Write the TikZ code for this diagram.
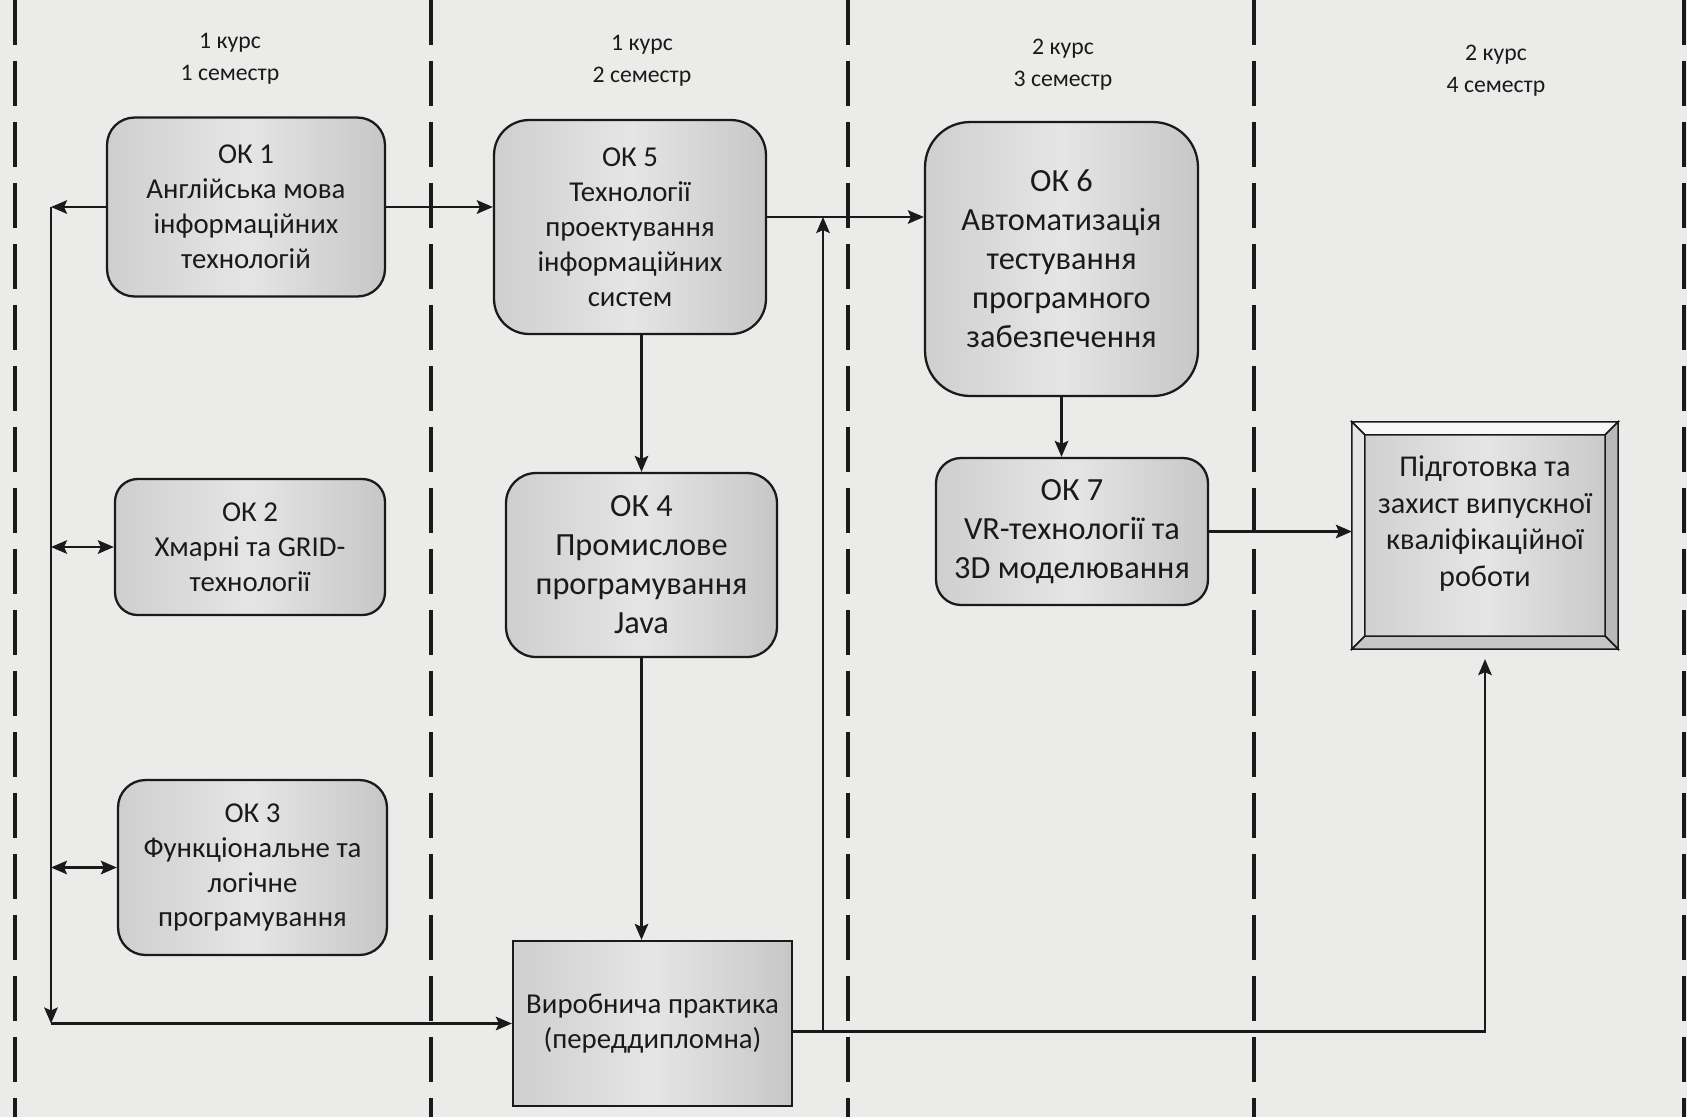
\documentclass[tikz,border=0pt]{standalone}
\usepackage{fontspec}
\setmainfont{Carlito}
\usetikzlibrary{arrows.meta,positioning,calc}
\definecolor{paper}{HTML}{EBEBEA}
\definecolor{ink}{HTML}{1A1A1A}
\tikzset{
  flow/.style={-{Stealth[length=0.32cm,width=0.27cm,inset=0.06cm]},line width=1.4pt,ink},
  twoway/.style={{Stealth[length=0.32cm,width=0.27cm,inset=0.06cm]}-{Stealth[length=0.32cm,width=0.27cm,inset=0.06cm]},line width=1.4pt,ink},
  lane/.style={line width=2.1pt,ink,dash pattern=on 0.9cm off 0.32cm},
  okbox/.style={draw=ink,line width=1.3pt,rounded corners=0.55cm,
    left color=gray!38,right color=gray!44,middle color=gray!20,
    align=center,text=ink,inner sep=2pt,font=\fontsize{16.4}{19.9}\selectfont},
  bigtext/.style={font=\fontsize{18.4}{22.2}\selectfont},
  term/.style={font=\fontsize{13.5}{18.2}\selectfont,align=center,text=ink},
  face/.style={draw=ink,line width=0.9pt}
}

\begin{document}
\begin{tikzpicture}[x=0.02cm,y=-0.02cm]
\useasboundingbox (0,0) rectangle (1687,1117);
\fill[paper] (0,0) rectangle (1687,1117);
\foreach \x in {15,431,848,1254,1684}
  \draw[lane] (\x,0)--(\x,1117);
\node[term] (t1) at (230,59) {1 курс\\1 семестр};
\node[term] (t2) at (642,61) {1 курс\\2 семестр};
\node[term] (t3) at (1063,65) {2 курс\\3 семестр};
\node[term] (t4) at (1496,71) {2 курс\\4 семестр};
\node[okbox,minimum width=5.56cm,minimum height=3.58cm] (ok1) at (246,207)
  {ОК 1\\Англійська мова\\інформаційних\\технологій};
\node[okbox,minimum width=5.4cm,minimum height=2.72cm,rounded corners=0.45cm] (ok2) at (250,547)
  {ОК 2\\Хмарні та GRID-\\технології};
\node[okbox,minimum width=5.38cm,minimum height=3.5cm] (ok3) at (252.5,867.5)
  {ОК 3\\Функціональне та\\логічне\\програмування};
\node[okbox,minimum width=5.44cm,minimum height=4.28cm,rounded corners=0.7cm] (ok5) at (630,227)
  {ОК 5\\Технології\\проектування\\інформаційних\\систем};
\node[okbox,bigtext,minimum width=5.42cm,minimum height=3.68cm,rounded corners=0.6cm] (ok4) at (641.5,565)
  {ОК 4\\Промислове\\програмування\\Java};
\node[okbox,sharp corners,minimum width=5.58cm,minimum height=3.3cm] (prac) at (652.5,1023.5)
  {Виробнича практика\\(переддипломна)};
\node[okbox,bigtext,minimum width=5.46cm,minimum height=5.48cm,rounded corners=0.9cm] (ok6) at (1061.5,259)
  {ОК 6\\Автоматизація\\тестування\\програмного\\забезпечення};
\node[okbox,bigtext,minimum width=5.44cm,minimum height=2.94cm,rounded corners=0.5cm] (ok7) at (1072,531.5)
  {ОК 7\\VR-технології та\\3D моделювання};
\node[okbox,sharp corners,minimum width=5.28cm,minimum height=4.5cm] (fin) at (1485,535.5) {};
\coordinate (i1) at ($(fin.north west)+(13,13)$);
\coordinate (i2) at ($(fin.north east)+(-13,13)$);
\coordinate (i3) at ($(fin.south east)+(-13,-13)$);
\coordinate (i4) at ($(fin.south west)+(13,-13)$);
\filldraw[face,fill=gray!6] (fin.north west)--(fin.north east)--(i2)--(i1)--cycle;
\filldraw[face,fill=gray!20] (fin.north west)--(i1)--(i4)--(fin.south west)--cycle;
\filldraw[face,fill=gray!55] (fin.north east)--(fin.south east)--(i3)--(i2)--cycle;
\filldraw[face,fill=gray!45] (fin.south west)--(i4)--(i3)--(fin.south east)--cycle;
\node[align=center,text=ink,font=\fontsize{17.2}{20.8}\selectfont] (fintext) at ($(fin.center)+(0,-12)$)
  {Підготовка та\\захист випускної\\кваліфікаційної\\роботи};
\coordinate (bustop) at (51,0 |- ok1.west);
\coordinate (busbot) at (51,0 |- prac.west);
\coordinate (jn) at (823,217);
\coordinate (pout) at ($(prac.east)+(0,8)$);
\draw[flow] (ok1.west)--(bustop);
\draw[flow] (bustop)--(busbot);
\draw[flow] (busbot)--(prac.west);
\foreach \n in {ok2,ok3}
  \draw[twoway] (\n.west -| bustop)--(\n.west);
\draw[flow] (ok1.east)--(ok1.east -| ok5.west);
\draw[flow] (ok5.east |- jn)--(jn -| ok6.west);
\draw[flow] (ok4.north |- ok5.south)--(ok4.north);
\draw[flow] (ok4.south)--(ok4.south |- prac.north);
\draw[flow] (ok6.south)--(ok6.south |- ok7.north);
\draw[flow] (ok7.east)--(ok7.east -| fin.west);
\draw[flow] (pout -| jn)--(jn);
\draw[flow,shorten >=0.2cm] (pout) -| (fin.south);
\end{tikzpicture}
\end{document}
